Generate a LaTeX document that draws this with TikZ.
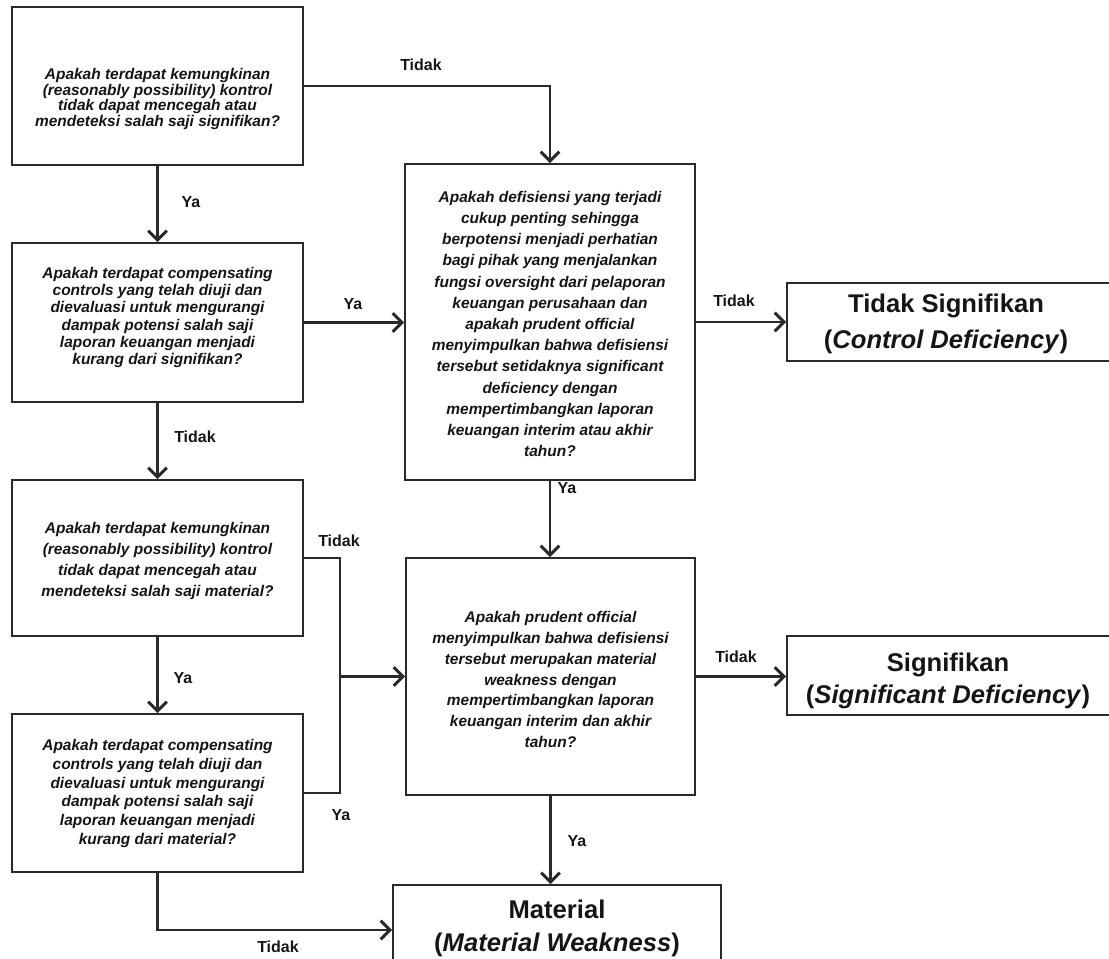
\documentclass[tikz,border=0pt]{standalone}
\usepackage{fontspec}
\setmainfont{Liberation Sans}
\usetikzlibrary{arrows.meta}
\definecolor{ink}{HTML}{151515}
\definecolor{linec}{HTML}{2A2A2A}
\begin{document}
\begin{tikzpicture}[x=0.75pt,y=-0.75pt,
  box/.style={draw=linec, line width=1.4pt, fill=white, inner sep=0pt},
  qtext/.style={text=ink, align=center, inner sep=0pt, font=\fontsize{11.6}{#1}\selectfont\bfseries\itshape},
  otext/.style={text=ink, align=center, inner sep=0pt, font=\fontsize{19.2}{#1}\selectfont\bfseries},
  lbl/.style={text=ink, inner sep=0pt, font=\fontsize{12}{14}\selectfont\bfseries},
  conn/.style={draw=linec, line width=1.8pt},
  arr/.style={conn, -{Straight Barb[length=7pt,width=14pt,line width=2.2pt]}}]
\useasboundingbox (0,0) rectangle (1109,959);

% decision boxes, left column
\node[box, minimum width=218.25pt, minimum height=118.5pt]  (b1) at (157.5,86) {};
\node[box, minimum width=218.25pt, minimum height=119.25pt] (b2) at (157.5,322.5) {};
\node[box, minimum width=218.25pt, minimum height=117pt]    (b3) at (157.5,558) {};
\node[box, minimum width=218.25pt, minimum height=118.5pt]  (b4) at (157.5,793) {};

% decision boxes, middle column
\node[box, minimum width=217.5pt, minimum height=237pt]    (m1) at (550,322) {};
\node[box, minimum width=216.75pt, minimum height=177.75pt] (m2) at (550.5,676.5) {};

% outcome boxes
\node[box, minimum width=243.75pt, minimum height=58.5pt]  (ts)  at (949.5,322) {};
\node[box, minimum width=243.75pt, minimum height=59.25pt] (sg)  at (949.5,675.5) {};
\node[box, minimum width=246pt, minimum height=67.5pt]     (mat) at (557,930) {};

% question texts
\node[qtext=11.8pt] (b1t) at (157.5,99) {Apakah terdapat kemungkinan\\(reasonably possibility) kontrol\\tidak dapat mencegah atau\\mendeteksi salah saji signifikan?};
\node[qtext=12.8pt] (b2t) at (157.5,317.5) {Apakah terdapat compensating\\controls yang telah diuji dan\\dievaluasi untuk mengurangi\\dampak potensi salah saji\\laporan keuangan menjadi\\kurang dari signifikan?};
\node[qtext=15.6pt] (b3t) at (157.5,561) {Apakah terdapat kemungkinan\\(reasonably possibility) kontrol\\tidak dapat mencegah atau\\mendeteksi salah saji material?};
\node[qtext=14pt] (b4t) at (157.5,793.5) {Apakah terdapat compensating\\controls yang telah diuji dan\\dievaluasi untuk mengurangi\\dampak potensi salah saji\\laporan keuangan menjadi\\kurang dari material?};
\node[qtext=15.9pt] (m1t) at (550,324) {Apakah defisiensi yang terjadi\\cukup penting sehingga\\berpotensi menjadi perhatian\\bagi pihak yang menjalankan\\fungsi oversight dari pelaporan\\keuangan perusahaan dan\\apakah prudent official\\menyimpulkan bahwa defisiensi\\tersebut setidaknya significant\\deficiency dengan\\mempertimbangkan laporan\\keuangan interim atau akhir\\tahun?};
\node[qtext=15.6pt] (m2t) at (550.5,679.5) {Apakah prudent official\\menyimpulkan bahwa defisiensi\\tersebut merupakan material\\weakness dengan\\mempertimbangkan laporan\\keuangan interim dan akhir\\tahun?};

% outcome texts
\node[otext=27.5pt] (tst) at (946,324) {Tidak Signifikan\\(\textit{Control Deficiency})};
\node[otext=24pt] (sgt) at (948,681) {Signifikan\\(\textit{Significant Deficiency})};
\node[otext=24.5pt] (matt) at (557,928.5) {Material\\(\textit{Material Weakness})};

% connectors
\draw[arr] (b1.east) -| (m1.north);
\draw[arr] (b1.south) -- (b2.north);
\draw[arr] (b2.east) -- (b2.east -| m1.west);
\draw[arr] (b2.south) -- (b3.north);
\draw[arr] (m1.east) -- (m1.east -| ts.west);
\draw[arr] (m1.south) -- (m1.south |- m2.north);
\draw[arr] (b3.south) -- (b4.north);
\coordinate (j) at (340,676.5);
\draw[conn] (b3.east) -| (j) |- (b4.east);
\draw[arr] (j) -- (j -| m2.west);
\draw[arr] (m2.east) -- (m2.east -| sg.west);
\draw[arr] (m2.south) -- (m2.south |- mat.north);
\draw[arr] (b4.south) |- (mat.west);

% branch labels
\node[lbl] (l1) at (421,65)  {Tidak};
\node[lbl] (l2) at (191,202) {Ya};
\node[lbl] (l3) at (353,304) {Ya};
\node[lbl] (l4) at (195,437) {Tidak};
\node[lbl] (l5) at (734,301) {Tidak};
\node[lbl] (l6) at (567,488) {Ya};
\node[lbl] (l7) at (339,541) {Tidak};
\node[lbl] (l8) at (183,678) {Ya};
\node[lbl] (l9) at (736,657) {Tidak};
\node[lbl] (l10) at (341,815) {Ya};
\node[lbl] (l11) at (577,841) {Ya};
\node[lbl] (l12) at (278,947) {Tidak};
\end{tikzpicture}
\end{document}
